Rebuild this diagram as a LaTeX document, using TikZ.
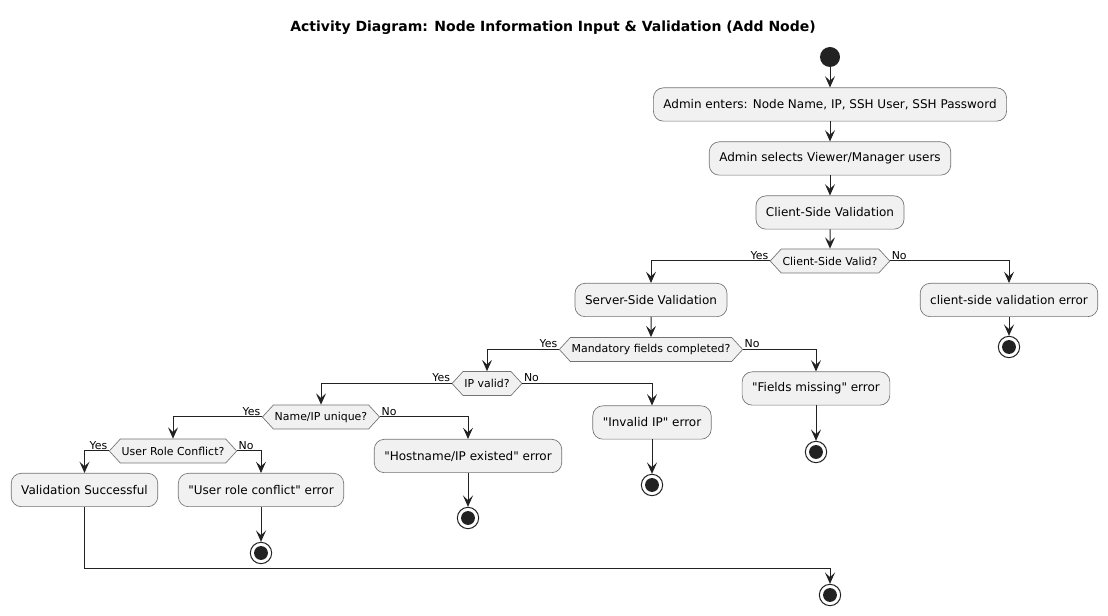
\documentclass[tikz,border=0pt]{standalone}
\usepackage{fontspec}
\setmainfont{DejaVu Sans}
\usetikzlibrary{arrows.meta,shapes.symbols}
\definecolor{boxfill}{HTML}{F1F1F1}
\definecolor{ink}{HTML}{222222}
\begin{document}
\begin{tikzpicture}[x=0.75pt,y=-0.75pt,
  act/.style={draw=black!55, fill=boxfill, line width=0.5pt, rounded corners=7.5pt,
    minimum height=25pt, inner xsep=7.5pt, font=\fontsize{9}{11}\selectfont},
  test/.style={draw=black!55, fill=boxfill, line width=0.5pt, signal, signal to=west and east,
    signal pointer angle=95, minimum height=18pt, inner xsep=1pt, font=\fontsize{8.2}{10}\selectfont},
  startdot/.style={circle, fill=ink, minimum size=15pt, inner sep=0pt},
  stopdot/.style={circle, draw=ink, line width=0.75pt, fill=white, minimum size=16pt, inner sep=0pt,
    path picture={\fill[ink] (path picture bounding box.center) circle (5.2pt);}},
  lbl/.style={font=\fontsize{8.2}{10}\selectfont, inner sep=1pt},
  arr/.style={draw=ink, line width=0.75pt, -{Stealth[length=8.5pt,width=7.5pt,inset=3.5pt]}}]
\useasboundingbox (0,0) rectangle (1108,616);

\node[font=\bfseries\fontsize{10.5}{12}\selectfont] (title) at (553,28) {Activity Diagram: Node Information Input \& Validation (Add Node)};

\node[startdot] (start) at (830,57) {};
\node[act] (a1) at (830,104.5) {Admin enters: Node Name, IP, SSH User, SSH Password};
\node[act] (a2) at (830,158.5) {Admin selects Viewer/Manager users};
\node[act] (a3) at (830,212.5) {Client-Side Validation};
\node[test] (d1) at (830,261) {Client-Side Valid?};
\node[act] (a4) at (651,300) {Server-Side Validation};
\node[act] (e1) at (1009,300) {client-side validation error};
\node[stopdot] (s1) at (1009,347) {};
\node[test] (d2) at (651,349.5) {Mandatory fields completed?};
\node[act] (e2) at (816,388.5) {\textquotedbl Fields missing\textquotedbl{} error};
\node[stopdot] (s2) at (816,452) {};
\node[test] (d3) at (487,383.5) {IP valid?};
\node[act] (e3) at (652,422.5) {\textquotedbl Invalid IP\textquotedbl{} error};
\node[stopdot] (s3) at (652,485) {};
\node[test] (d4) at (321,417) {Name/IP unique?};
\node[act] (e4) at (468,456) {\textquotedbl Hostname/IP existed\textquotedbl{} error};
\node[stopdot] (s4) at (468,518) {};
\node[test] (d5) at (173,451) {User Role Conflict?};
\node[act] (ok) at (84.5,490) {Validation Successful};
\node[act] (e5) at (261,490) {\textquotedbl User role conflict\textquotedbl{} error};
\node[stopdot] (s5) at (261,553) {};
\coordinate (join) at (830,569);
\node[stopdot] (s6) at (830,595) {};

\node[lbl, anchor=south east] (y1) at (d1.west) {Yes};
\node[lbl, anchor=south west] (n1) at (d1.east) {No};
\node[lbl, anchor=south east] (y2) at (d2.west) {Yes};
\node[lbl, anchor=south west] (n2) at (d2.east) {No};
\node[lbl, anchor=south east] (y3) at (d3.west) {Yes};
\node[lbl, anchor=south west] (n3) at (d3.east) {No};
\node[lbl, anchor=south east] (y4) at (d4.west) {Yes};
\node[lbl, anchor=south west] (n4) at (d4.east) {No};
\node[lbl, anchor=south east] (y5) at (d5.west) {Yes};
\node[lbl, anchor=south west] (n5) at (d5.east) {No};

\path[arr] (start) -- (a1);
\path[arr] (a1) -- (a2);
\path[arr] (a2) -- (a3);
\path[arr] (a3) -- (d1);
\path[arr] (d1.west) -| (a4);
\path[arr] (d1.east) -| (e1);
\path[arr] (e1) -- (s1);
\path[arr] (a4) -- (d2);
\path[arr] (d2.west) -| (d3);
\path[arr] (d2.east) -| (e2);
\path[arr] (e2) -- (s2);
\path[arr] (d3.west) -| (d4);
\path[arr] (d3.east) -| (e3);
\path[arr] (e3) -- (s3);
\path[arr] (d4.west) -| (d5);
\path[arr] (d4.east) -| (e4);
\path[arr] (e4) -- (s4);
\path[arr] (d5.west) -| (ok);
\path[arr] (d5.east) -| (e5);
\path[arr] (e5) -- (s5);
\path[arr] (ok.south) |- (join) -- (s6);
\end{tikzpicture}
\end{document}
